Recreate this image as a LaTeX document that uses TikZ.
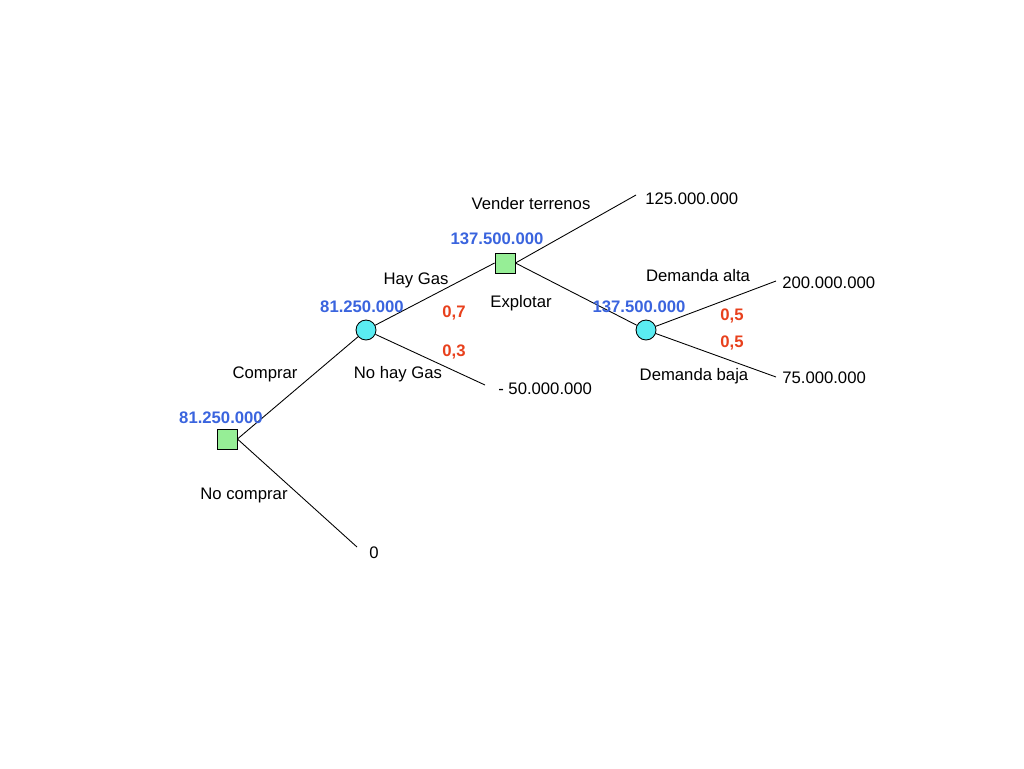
\documentclass[tikz,border=0pt]{standalone}
\usepackage{fontspec}
\setmainfont{Liberation Sans}
\definecolor{valblue}{RGB}{58,100,222}
\definecolor{probred}{RGB}{232,64,28}
\definecolor{boxgreen}{RGB}{150,238,150}
\definecolor{chancecyan}{RGB}{90,236,242}
\tikzset{
  decision/.style={draw, fill=boxgreen, minimum size=0.4cm, inner sep=0pt},
  chance/.style={draw, circle, fill=chancecyan, minimum size=0.4cm, inner sep=0pt},
  lbl/.style={font=\fontsize{9.5}{11}\selectfont},
  val/.style={font=\fontsize{9.5}{11}\selectfont\bfseries, text=valblue},
  prob/.style={font=\fontsize{9.5}{11}\selectfont\bfseries, text=probred}
}
\begin{document}
\begin{tikzpicture}[x=0.02cm, y=-0.02cm, line width=0.5pt]
            \useasboundingbox (0,0) rectangle (1024,768);

            % nodos de decision y de azar
            \node[decision] (d1) at (227,439) {};
            \node[chance] (c1) at (366,330) {};
            \node[decision] (d2) at (505,263) {};
            \node[chance] (c2) at (646,330) {};

            % extremos de las ramas
            \coordinate (e0) at (357,547);
            \coordinate (e1) at (485,385);
            \coordinate (e2) at (636,195);
            \coordinate (e3) at (776,281);
            \coordinate (e4) at (776,377);

            % ramas
            \draw (d1.east) -- (c1);
            \draw (d1.east) -- (e0);
            \draw (c1) -- (d2.west);
            \draw (c1) -- (e1);
            \draw (d2.east) -- (e2);
            \draw (d2.east) -- (c2);
            \draw (c2) -- (e3);
            \draw (c2) -- (e4);

            % valores esperados
            \node[val] (v1) at (221,418) {81.250.000};
            \node[val] (v2) at (362,307) {81.250.000};
            \node[val] (v3) at (497,239) {137.500.000};
            \node[val] (v4) at (639,307) {137.500.000};

            % nombres de las ramas
            \node[lbl] (comprar) at (265,374) {Comprar};
            \node[lbl] (nocomprar) at (244,495) {No comprar};
            \node[lbl] (haygas) at (416,280) {Hay Gas};
            \node[lbl] (nohaygas) at (398,374) {No hay Gas};
            \node[lbl] (vender) at (531,204) {Vender terrenos};
            \node[lbl] (explotar) at (521,303) {Explotar};
            \node[lbl] (alta) at (698,276) {Demanda alta};
            \node[lbl] (baja) at (694,376) {Demanda baja};

            % probabilidades
            \node[prob] (p1) at (454,313) {0,7};
            \node[prob] (p2) at (454,352) {0,3};
            \node[prob] (p3) at (732,316) {0,5};
            \node[prob] (p4) at (732,343) {0,5};

            % resultados
            \node[lbl, anchor=west] (r0) at (363,553) {0};
            \node[lbl, anchor=west] (r1) at (492,389) {- 50.000.000};
            \node[lbl, anchor=west] (r2) at (639,199) {125.000.000};
            \node[lbl, anchor=west] (r3) at (776,283) {200.000.000};
            \node[lbl, anchor=west] (r4) at (776,378) {75.000.000};
        \end{tikzpicture}
\end{document}
